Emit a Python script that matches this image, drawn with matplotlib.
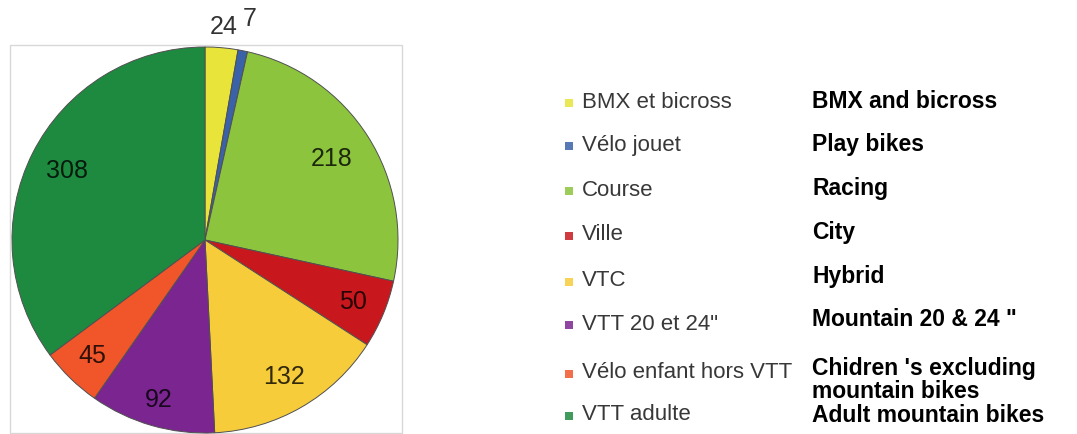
import numpy as np
import matplotlib
matplotlib.use("Agg")
import matplotlib.pyplot as plt
from matplotlib.patches import Rectangle

# ── Data ──────────────────────────────────────────────────────
labels_fr = ["BMX et bicross", "Vélo jouet", "Course", "Ville", "VTC",
             "VTT 20 et 24\"", "Vélo enfant hors VTT", "VTT adulte"]
labels_en = ["BMX and bicross", "Play bikes", "Racing", "City", "Hybrid",
             "Mountain 20 & 24 \"", "Chidren 's excluding\nmountain bikes",
             "Adult mountain bikes"]
counts = [24, 7, 218, 50, 132, 92, 45, 308]
colors = ["#e8e43a", "#3a62a8", "#8cc43e", "#c8181e", "#f7cc3a",
          "#7a2590", "#f0562a", "#1e8a40"]

# ── Layout (pixel units, y measured from top) ─────────────────
W, H = 1077, 434
cx, cy, R = 205, 240, 193
label_dist = [1.11, 1.17, 0.78, 0.83, 0.82, 0.86, 0.84, 0.80]
rows_fr = [102, 145, 190, 235, 281, 324, 373, 415]
rows_en = [102, 145, 189, 233, 277, 320, 380, 415]

fig = plt.figure(figsize=(W / 100, H / 100), dpi=100)
ax = fig.add_axes([0, 0, 1, 1])

# light frame round the pie
ax.add_patch(Rectangle((10, H - 433), 392, 388, fill=False,
                       edgecolor="#d8d8d8", linewidth=1))

wedges, _ = ax.pie(counts, colors=colors, startangle=90, counterclock=False,
                   center=(cx, H - cy), radius=R,
                   wedgeprops=dict(edgecolor="#505050", linewidth=0.7))

for w, n, d in zip(wedges, counts, label_dist):
    ang = np.deg2rad((w.theta1 + w.theta2) / 2)
    ax.text(cx + d * R * np.cos(ang), H - cy + d * R * np.sin(ang), str(n),
            ha="center", va="center", fontsize=18, family="Liberation Sans",
            color="black", alpha=0.8)

# legend (French) and translation (English)
for lab, col, y in zip(labels_fr, colors, rows_fr):
    ax.add_patch(Rectangle((565, H - y - 4.5), 8, 8, facecolor=col,
                           edgecolor="none", alpha=0.85))
    ax.text(582, H - y, lab, ha="left", va="center", fontsize=16,
            family="Liberation Sans", color="#383838")

for lab, y in zip(labels_en, rows_en):
    ax.text(812, H - y, lab, ha="left", va="center", fontsize=16.5,
            family="Liberation Sans", fontweight="bold", color="black",
            linespacing=0.95)

ax.set_xlim(0, W)
ax.set_ylim(0, H)
ax.set_aspect("auto")
ax.axis("off")

plt.savefig("out.png", dpi=100)
plt.close()
